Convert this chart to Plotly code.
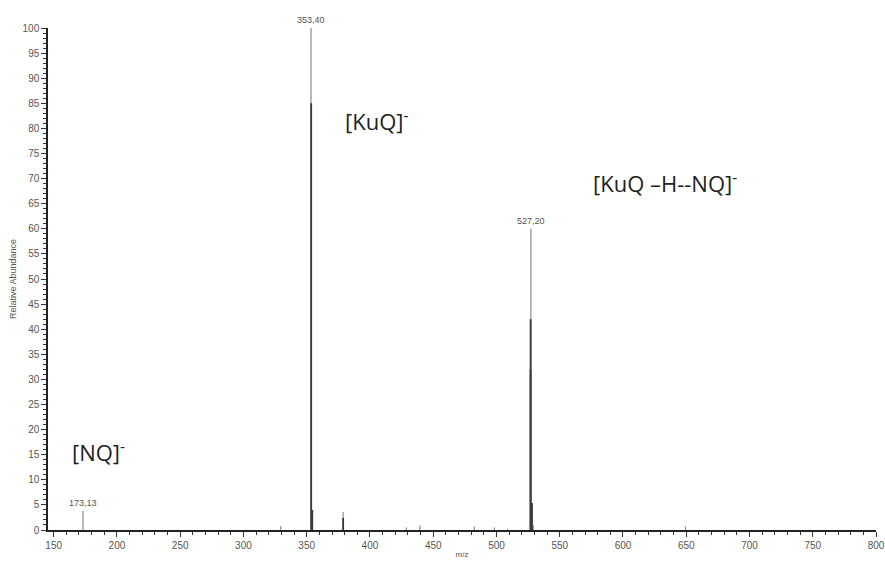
import plotly.graph_objects as go

# Spectrum sticks (m/z, relative abundance)
mz_thin = [173.13, 329.5, 353.40, 378.8, 428.7, 439.5, 482.5, 498.4, 508.7, 527.20, 529.0, 649.4]
ab_thin = [3.8, 0.8, 100.0, 3.6, 0.5, 0.9, 0.7, 0.5, 0.3, 60.0, 1.0, 0.7]
mz_dark = [353.55, 354.4, 378.8, 527.0, 526.9, 528.1]
ab_dark = [85.0, 4.0, 2.4, 42.0, 32.0, 5.4]

label_mz = [173.13, 353.40, 527.20]
label_ab = [3.8, 100.0, 60.0]
label_txt = ["173,13", "353,40", "527,20"]

ion_txt = ["[NQ]<sup>-</sup>", "[KuQ]<sup>-</sup>", "[KuQ \u2013H--NQ]<sup>-</sup>"]
ion_px = [0.0265, 0.356, 0.656]
ion_py = [0.157, 0.815, 0.693]


def sticks(xs, ys):
    X, Y = [], []
    for x, y in zip(xs, ys):
        X += [x, x, None]
        Y += [0, y, None]
    return X, Y


fig = go.Figure()
X, Y = sticks(mz_thin, ab_thin)
fig.add_trace(go.Scatter(x=X, y=Y, mode="lines", line=dict(color="#8a8a8a", width=1.2),
                         hoverinfo="skip", showlegend=False))
X, Y = sticks(mz_dark, ab_dark)
fig.add_trace(go.Scatter(x=X, y=Y, mode="lines", line=dict(color="#3a3a3a", width=1.8),
                         hoverinfo="skip", showlegend=False))

for x, y, t in zip(label_mz, label_ab, label_txt):
    fig.add_annotation(x=x, y=y, xref="x", yref="y", text=t, showarrow=False,
                       yanchor="bottom", xanchor="center", yshift=1,
                       font=dict(family="Liberation Sans, Arial", size=9, color="#555"))

for t, px, py in zip(ion_txt, ion_px, ion_py):
    fig.add_annotation(x=px, y=py, xref="paper", yref="paper", text=t, showarrow=False,
                       xanchor="left", yanchor="middle",
                       font=dict(family="Open Sans, sans-serif", size=22, color="#222"))

fig.update_layout(
    width=885, height=561,
    margin=dict(l=48, r=9, t=28, b=31),
    paper_bgcolor="white", plot_bgcolor="white",
    xaxis=dict(range=[145.5, 800], tickmode="linear", tick0=150, dtick=50, automargin=False,
               showgrid=False, zeroline=False, showline=True, linecolor="#222", linewidth=1.5,
               ticks="outside", ticklen=5, tickcolor="#333", tickwidth=1,
               minor=dict(dtick=10, tick0=150, ticks="outside", ticklen=3, tickcolor="#333", showgrid=False),
               tickfont=dict(family="Liberation Sans, Arial", size=10, color="#555"),
               title=dict(text="m/z", font=dict(family="Liberation Sans, Arial", size=8, color="#555"),
                          standoff=2)),
    yaxis=dict(range=[0, 100], tickmode="linear", tick0=0, dtick=5, automargin=False,
               showgrid=False, zeroline=False, showline=True, linecolor="#222", linewidth=1.5,
               ticks="outside", ticklen=5, tickcolor="#333", tickwidth=1,
               minor=dict(dtick=1, ticks="outside", ticklen=3, tickcolor="#333", showgrid=False),
               tickfont=dict(family="Liberation Sans, Arial", size=10, color="#555"),
               title=dict(text="Relative Abundance", font=dict(family="Liberation Sans, Arial", size=9, color="#555"),
                          standoff=4)),
)

fig.write_html("out.html")
